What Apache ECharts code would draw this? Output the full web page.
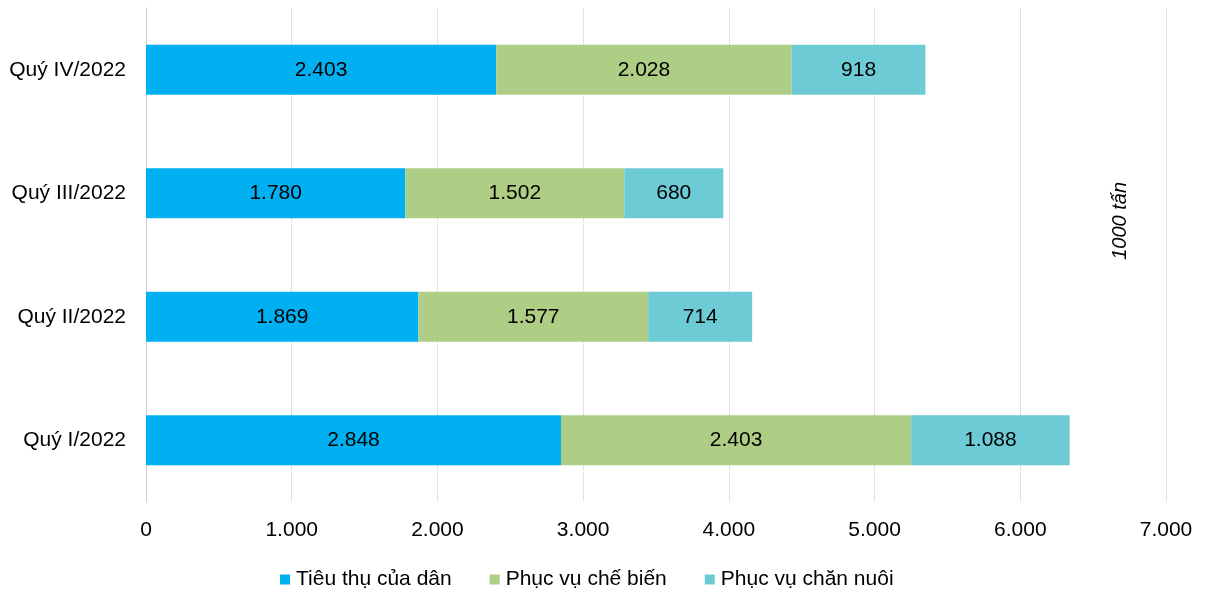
<!DOCTYPE html>
<html><head><meta charset="utf-8">
<script src="https://cdn.jsdelivr.net/npm/echarts@6/dist/echarts.min.js"></script>
<style>html,body{margin:0;padding:0;background:#fff}#c{width:1209px;height:589px}</style>
</head><body><div id="c"></div>
<script>
const categories = ['Quý I/2022','Quý II/2022','Quý III/2022','Quý IV/2022'];
const seriesNames = ['Tiêu thụ của dân','Phục vụ chế biến','Phục vụ chăn nuôi'];
const tieuThu = [2848, 1869, 1780, 2403];
const cheBien = [2403, 1577, 1502, 2028];
const chanNuoi = [1088, 714, 680, 918];
const colors = ['#00b0f0','#aece85','#6dcbd6'];
const unitLabel = '1000 tấn';

function fmt(v){ return String(v).replace(/\B(?=(\d{3})+(?!\d))/g,'.'); }
const font = '"Liberation Sans", Arial, sans-serif';
const chart = echarts.init(document.getElementById('c'));
const data = [tieuThu, cheBien, chanNuoi];
chart.setOption({
  animation:false,
  textStyle:{fontFamily:font},
  grid:{left:146,right:43,top:8,bottom:87},
  legend:{top:564,left:275,itemWidth:10,itemHeight:10,itemGap:38,icon:'rect',
    textStyle:{fontSize:21,color:'#000',fontFamily:font,padding:[0,0,0,1]}, data:seriesNames},
  xAxis:{type:'value',min:0,max:7000,interval:1000,
    axisLine:{show:false},axisTick:{show:false},
    axisLabel:{fontSize:21,color:'#000',margin:18,formatter:fmt,fontFamily:font},
    splitLine:{show:true,lineStyle:{color:'#c8c8c8',type:'dotted',width:1}}},
  yAxis:{type:'category',data:categories,
    axisLine:{show:true,lineStyle:{color:'#d0d0d0',width:1}},axisTick:{show:false},
    axisLabel:{fontSize:21,color:'#000',margin:20,fontFamily:font}},
  series: seriesNames.map((n,i)=>({
    name:n,type:'bar',stack:'s',barWidth:50,data:data[i],
    itemStyle:{color:colors[i]},
    label:{show:true,position:'inside',fontSize:21,color:'#000',fontFamily:font,formatter:p=>fmt(p.value)}
  })),
  graphic:[{type:'text',left:1110,top:182,rotation:Math.PI/2,
    style:{text:unitLabel,font:'italic 20px "Liberation Sans", Arial, sans-serif',fill:'#000'}}]
});
</script></body></html>
